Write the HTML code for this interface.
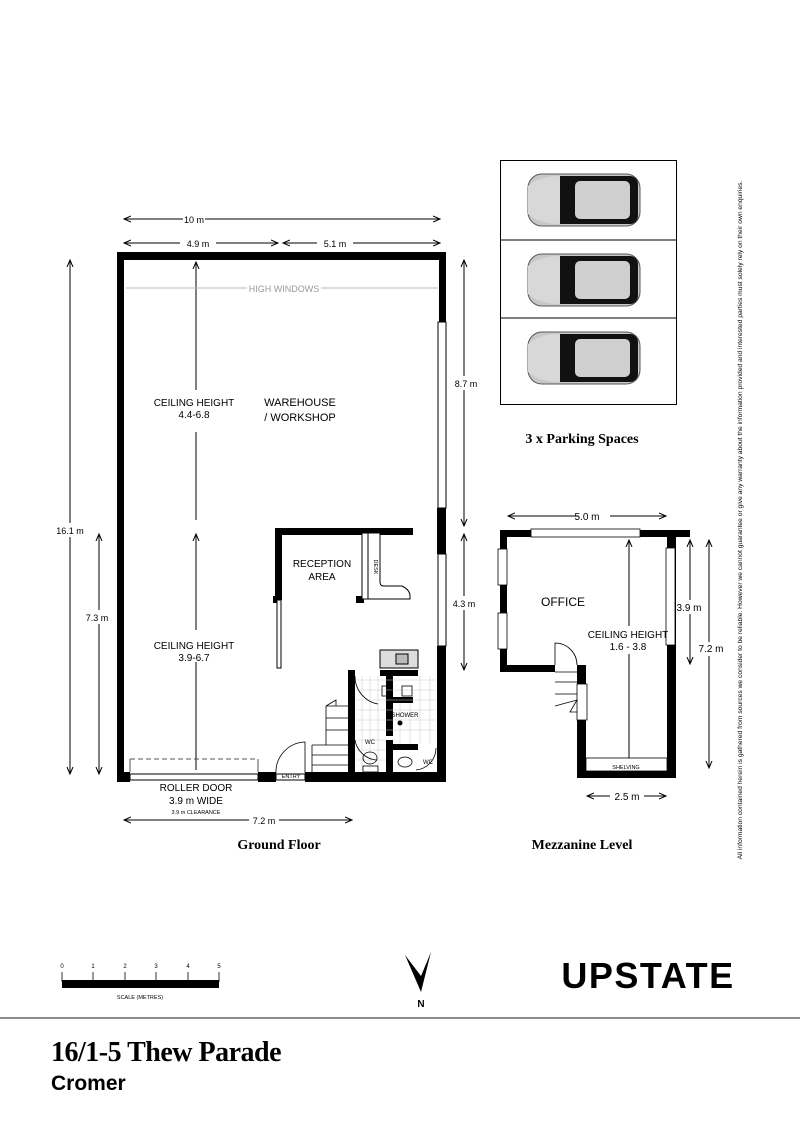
<!DOCTYPE html>
<html><head><meta charset="utf-8"><style>
html,body{margin:0;padding:0;background:#fff;}
svg{display:block;}
text{font-family:"Liberation Sans",sans-serif;}
.c{font-family:"Liberation Sans Narrow","Liberation Sans",sans-serif;}
.s{font-family:"Liberation Serif",serif;font-weight:bold;}
</style></head><body>
<svg width="800" height="1132" viewBox="0 0 800 1132" xmlns="http://www.w3.org/2000/svg">
<defs>
<marker id="a" markerWidth="8" markerHeight="8" refX="7" refY="4" orient="auto-start-reverse" markerUnits="userSpaceOnUse"><path d="M0,1 L7,4 L0,7" fill="none" stroke="#000" stroke-width="1"/></marker>
<g id="car">
<rect x="528" y="174" width="112" height="52" rx="14" fill="#c8c8c8" stroke="#555" stroke-width="1"/>
<rect x="552" y="176" width="86" height="48" rx="8" fill="#111"/>
<rect x="575" y="181" width="55" height="38" rx="5" fill="#cfcfcf"/>
<path d="M528,186 Q540,176 560,176 L560,224 Q540,224 528,214 Z" fill="#d8d8d8"/>
</g>
</defs>

<g stroke="#000" stroke-width="1" fill="none">
<line x1="124" y1="219" x2="440" y2="219" marker-start="url(#a)" marker-end="url(#a)"/>
<line x1="124" y1="243" x2="278" y2="243" marker-start="url(#a)" marker-end="url(#a)"/>
<line x1="283" y1="243" x2="440" y2="243" marker-start="url(#a)" marker-end="url(#a)"/>
<line x1="70" y1="260" x2="70" y2="774" marker-start="url(#a)" marker-end="url(#a)"/>
<line x1="99" y1="534" x2="99" y2="774" marker-start="url(#a)" marker-end="url(#a)"/>
<line x1="464" y1="260" x2="464" y2="526" marker-start="url(#a)" marker-end="url(#a)"/>
<line x1="464" y1="534" x2="464" y2="670" marker-start="url(#a)" marker-end="url(#a)"/>
<line x1="124" y1="820" x2="352" y2="820" marker-start="url(#a)" marker-end="url(#a)"/>
<line x1="196" y1="262" x2="196" y2="390" marker-start="url(#a)"/>
<line x1="196" y1="432" x2="196" y2="520"/>
<line x1="196" y1="534" x2="196" y2="630" marker-start="url(#a)"/>
<line x1="196" y1="662" x2="196" y2="770"/>
</g>
<g fill="#fff">
<rect x="183" y="212" width="22" height="14"/><rect x="180" y="236" width="36" height="14"/><rect x="317" y="236" width="36" height="14"/>
<rect x="55" y="523" width="30" height="14"/><rect x="82" y="610" width="30" height="14"/><rect x="450" y="376" width="30" height="14"/><rect x="450" y="596" width="30" height="14"/><rect x="249" y="813" width="30" height="14"/>
</g>
<g font-size="9" class="c" text-anchor="middle">
<text x="194" y="223">10 m</text><text x="198" y="247">4.9 m</text><text x="335" y="247">5.1 m</text>
<text x="70" y="534">16.1 m</text><text x="97" y="621">7.3 m</text><text x="466" y="387">8.7 m</text><text x="464" y="607">4.3 m</text>
<text x="264" y="824">7.2 m</text>
</g>

<line x1="126" y1="288" x2="438" y2="288" stroke="#bbb" stroke-width="1"/>
<rect x="247" y="282" width="74" height="12" fill="#fff"/>
<text x="284" y="292" font-size="9" fill="#999" text-anchor="middle" class="c">HIGH WINDOWS</text>

<g fill="#000">
<rect x="117" y="252" width="329" height="8"/>
<rect x="117" y="252" width="7" height="530"/>
<rect x="439" y="252" width="7" height="70"/>
<rect x="437" y="508" width="9" height="46"/>
<rect x="437" y="646" width="9" height="136"/>
<rect x="117" y="772" width="13" height="10"/>
<rect x="258" y="772" width="18" height="10"/>
<rect x="305" y="772" width="141" height="10"/>
<rect x="275" y="528" width="138" height="7"/>
<rect x="275" y="528" width="7" height="72"/>
<rect x="273" y="596" width="8" height="7"/>
<rect x="356" y="596" width="8" height="7"/>
<rect x="348" y="670" width="7" height="110"/>
<rect x="380" y="670" width="38" height="6"/>
<rect x="386" y="676" width="7" height="60"/>
<rect x="386" y="740" width="7" height="40"/>
<rect x="393" y="744" width="25" height="6"/>
<rect x="388" y="697" width="25" height="6"/>
</g>
<g fill="#fff" stroke="#000" stroke-width="1">
<rect x="438" y="322" width="8" height="186"/>
<rect x="438" y="554" width="8" height="92"/>
<rect x="130" y="774" width="128" height="6"/>
<rect x="276" y="774" width="29" height="6"/>
<rect x="277" y="600" width="4" height="68"/>
<rect x="362" y="533" width="6" height="66"/>
<path d="M368,533 L380,533 L380,582 Q380,586 384,586 L402,586 Q410,590 410,596 L410,599 L368,599 Z"/>
<rect x="380" y="650" width="38" height="18" fill="#ddd"/>
<rect x="396" y="654" width="12" height="10" fill="#bbb"/>
</g>
<line x1="130" y1="759" x2="258" y2="759" stroke="#555" stroke-dasharray="5,3"/>
<line x1="130" y1="759" x2="130" y2="772" stroke="#555"/><line x1="258" y1="759" x2="258" y2="772" stroke="#555"/>
<g stroke="#ccc" stroke-width="0.5">
<path d="M356,680 H436 M356,690 H436 M356,700 H436 M356,710 H436 M356,720 H436 M356,730 H436 M356,740 H386 M356,750 H386 M356,760 H386"/>
<path d="M362,676 V770 M370,676 V770 M378,676 V770 M400,703 V744 M410,703 V744 M420,676 V744 M430,676 V744"/>
</g>
<g fill="none" stroke="#000" stroke-width="0.8">
<path d="M305,773 L305,742 A30,30 0 0 0 276,773"/>
<path d="M355,676 A28,28 0 0 0 378,704"/>
<path d="M355,740 A24,24 0 0 0 376,760"/>
<path d="M436,748 A22,22 0 0 1 416,770"/>
<path d="M312,745 H348 M312,755 H348 M312,765 H348 M326,730 H348 M326,718 H348 M326,706 H348 M312,745 V772 M326,706 V745 M326,706 L336,700 L336,706"/>
<ellipse cx="370" cy="758" rx="7" ry="6"/>
<ellipse cx="405" cy="762" rx="7" ry="5"/>
<rect x="363" y="766" width="15" height="6"/>
<rect x="382" y="686" width="10" height="10"/><rect x="402" y="686" width="10" height="10"/>
</g>
<circle cx="400" cy="723" r="2.5"/>

<g font-size="10" class="c" text-anchor="middle">
<text x="194" y="406">CEILING HEIGHT</text><text x="194" y="418">4.4-6.8</text>
<text x="300" y="406" font-size="11">WAREHOUSE</text><text x="300" y="421" font-size="11">/ WORKSHOP</text>
<text x="322" y="567">RECEPTION</text><text x="322" y="580">AREA</text>
<text x="194" y="649">CEILING HEIGHT</text><text x="194" y="661">3.9-6.7</text>
<text x="196" y="791">ROLLER DOOR</text><text x="196" y="804">3.9 m WIDE</text>
<text x="196" y="814" font-size="5.5">3.9 m CLEARANCE</text>
<text x="291" y="778" font-size="5.5">ENTRY</text>
<text x="405" y="717" font-size="6">SHOWER</text>
<text x="370" y="744" font-size="6">WC</text><text x="428" y="764" font-size="6">WC</text>
<text x="374" y="567" font-size="5.5" transform="rotate(90 374 567)">DESK</text>
</g>
<text x="279" y="849" font-size="14" class="s" text-anchor="middle">Ground Floor</text>

<rect x="500.5" y="160.5" width="176" height="244" fill="none" stroke="#000"/>
<line x1="500" y1="240" x2="677" y2="240" stroke="#000"/>
<line x1="500" y1="318" x2="677" y2="318" stroke="#000"/>
<use href="#car"/><use href="#car" y="80"/><use href="#car" y="158"/>
<text x="582" y="443" font-size="14" class="s" text-anchor="middle">3 x Parking Spaces</text>

<g stroke="#000" stroke-width="1" fill="none">
<line x1="508" y1="516" x2="666" y2="516" marker-start="url(#a)" marker-end="url(#a)"/>
<line x1="690" y1="540" x2="690" y2="664" marker-start="url(#a)" marker-end="url(#a)"/>
<line x1="709" y1="540" x2="709" y2="768" marker-start="url(#a)" marker-end="url(#a)"/>
<line x1="587" y1="796" x2="666" y2="796" marker-start="url(#a)" marker-end="url(#a)"/>
<line x1="629" y1="540" x2="629" y2="772" marker-start="url(#a)"/>
</g>
<g fill="#fff"><rect x="578" y="510" width="32" height="12"/><rect x="678" y="600" width="26" height="14"/><rect x="697" y="642" width="26" height="14"/><rect x="610" y="790" width="34" height="12"/><rect x="585" y="626" width="90" height="28"/></g>
<g fill="#000">
<rect x="500" y="530" width="190" height="7"/>
<rect x="500" y="530" width="7" height="142"/>
<rect x="500" y="665" width="55" height="7"/>
<rect x="577" y="665" width="9" height="113"/>
<rect x="577" y="771" width="98" height="7"/>
<rect x="667" y="530" width="9" height="248"/>
</g>
<g fill="#fff" stroke="#000" stroke-width="0.8">
<rect x="531" y="529" width="109" height="8"/>
<rect x="498" y="549" width="9" height="36"/>
<rect x="498" y="613" width="9" height="36"/>
<rect x="666" y="548" width="9" height="97"/>
<rect x="577" y="684" width="10" height="36"/>
<rect x="586" y="758" width="81" height="13"/>
<path d="M555,665 L555,643 A22,22 0 0 1 577,665"/>
<path d="M555,672 H577 M555,682 H577 M555,694 H577 M555,706 L577,700 L570,712 L577,712" fill="none"/>
</g>
<g font-size="10" class="c" text-anchor="middle">
<text x="587" y="520">5.0 m</text><text x="689" y="611">3.9 m</text><text x="711" y="652">7.2 m</text><text x="627" y="800">2.5 m</text>
<text x="563" y="606" font-size="12">OFFICE</text>
<text x="628" y="638">CEILING HEIGHT</text><text x="628" y="650">1.6 - 3.8</text>
<text x="626" y="769" font-size="5.5">SHELVING</text>
</g>
<text x="582" y="849" font-size="14" class="s" text-anchor="middle">Mezzanine Level</text>

<text x="742" y="520" font-size="6.7" text-anchor="middle" transform="rotate(-90 742 520)" class="c">All information contained herein is gathered from sources we consider to be reliable. However we cannot guarantee or give any warranty about the information provided and interested parties must solely rely on their own enquiries.</text>

<g stroke="#000" stroke-width="0.8"><line x1="62" y1="972" x2="62" y2="982"/><line x1="93" y1="972" x2="93" y2="982"/><line x1="125" y1="972" x2="125" y2="982"/><line x1="156" y1="972" x2="156" y2="982"/><line x1="188" y1="972" x2="188" y2="982"/><line x1="219" y1="972" x2="219" y2="982"/></g>
<rect x="62" y="980" width="157" height="8" fill="#000"/>
<g font-size="6" text-anchor="middle" class="c"><text x="62" y="968">0</text><text x="93" y="968">1</text><text x="125" y="968">2</text><text x="156" y="968">3</text><text x="188" y="968">4</text><text x="219" y="968">5</text><text x="140" y="999" font-size="5.5">SCALE (METRES)</text></g>
<path d="M405,955 L421,976 L431,952 L421,992 Z" fill="#000"/>
<text x="421" y="1007" font-size="10" text-anchor="middle" font-weight="bold">N</text>
<text x="648" y="988" font-size="36" font-weight="bold" text-anchor="middle" letter-spacing="1.5">UPSTATE</text>

<line x1="0" y1="1018" x2="800" y2="1018" stroke="#666" stroke-width="1.5"/>
<text x="51" y="1061" font-size="28" class="s" letter-spacing="-0.5">16/1-5 Thew Parade</text>
<text x="51" y="1090" font-size="21" font-weight="bold">Cromer</text>
</svg>
</body></html>
